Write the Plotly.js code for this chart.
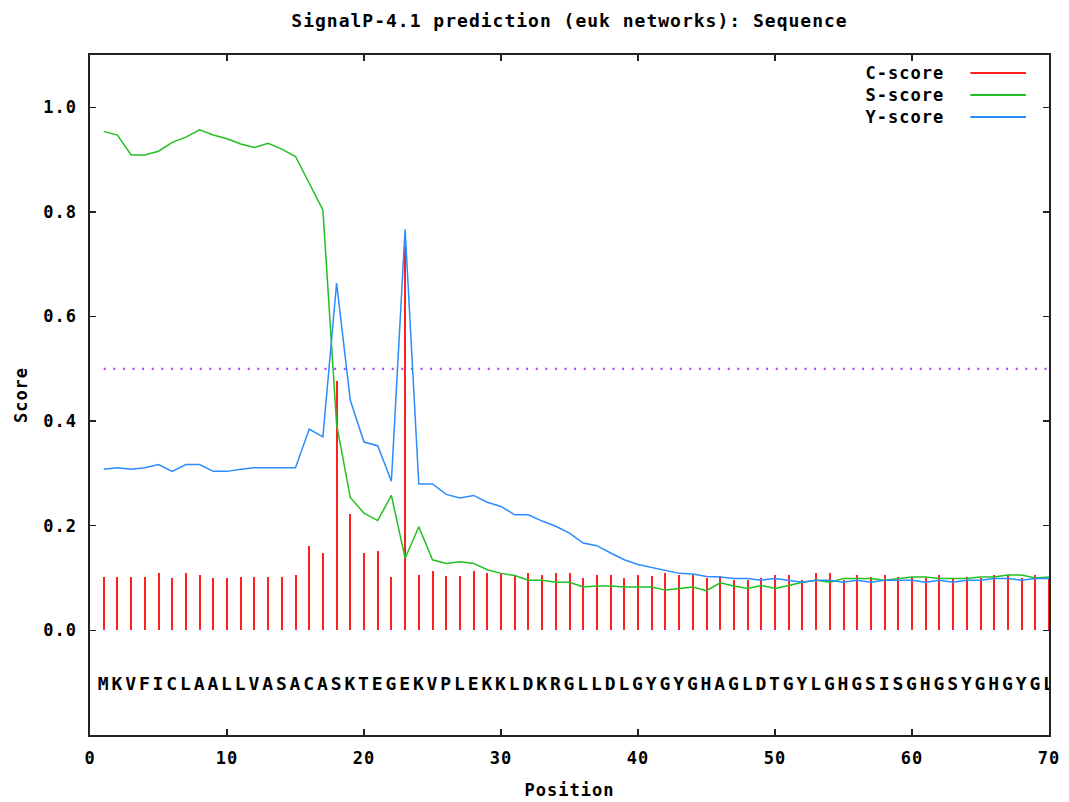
<!DOCTYPE html>
<html>
<head>
<meta charset="utf-8">
<script src="https://cdn.plot.ly/plotly-3.0.1.min.js"></script>
<style>
  html, body { margin: 0; padding: 0; background: #fff; }
  #chart { width: 1069px; height: 802px; }
  .main-svg text { letter-spacing: 1px; }
</style>
</head>
<body>
<div id="chart"></div>
<script>
// ---- data ----
const sequence = "MKVFICLAALLVASACASKTEGEKVPLEKKLDKRGLLDLGYGYGHAGLDTGYLGHGSISGHGSYGHGYGL".split("");
const positions = sequence.map((_, i) => i + 1);

const cScore = [
  0.103, 0.103, 0.103, 0.103, 0.109, 0.100, 0.109, 0.106, 0.100, 0.100,
  0.103, 0.103, 0.103, 0.103, 0.106, 0.161, 0.147, 0.476, 0.222, 0.147,
  0.151, 0.103, 0.735, 0.106, 0.113, 0.104, 0.104, 0.113, 0.110, 0.109,
  0.105, 0.110, 0.106, 0.110, 0.110, 0.100, 0.106, 0.106, 0.100, 0.106,
  0.104, 0.110, 0.105, 0.106, 0.100, 0.104, 0.097, 0.097, 0.100, 0.106,
  0.106, 0.097, 0.110, 0.110, 0.097, 0.106, 0.103, 0.106, 0.103, 0.103,
  0.100, 0.106, 0.100, 0.103, 0.100, 0.106, 0.106, 0.100, 0.106, 0.100
];

const sScore = [
  0.954, 0.947, 0.909, 0.909, 0.916, 0.933, 0.943, 0.957, 0.947, 0.940,
  0.930, 0.923, 0.931, 0.920, 0.906, 0.855, 0.804, 0.394, 0.254, 0.224,
  0.210, 0.258, 0.138, 0.198, 0.135, 0.128, 0.131, 0.128, 0.116, 0.109,
  0.105, 0.096, 0.096, 0.092, 0.092, 0.083, 0.085, 0.085, 0.083, 0.083,
  0.083, 0.077, 0.080, 0.083, 0.076, 0.091, 0.085, 0.080, 0.086, 0.080,
  0.086, 0.092, 0.096, 0.092, 0.099, 0.099, 0.099, 0.096, 0.099, 0.102,
  0.102, 0.099, 0.099, 0.099, 0.102, 0.102, 0.106, 0.106, 0.100, 0.102
];

const yScore = [
  0.308, 0.311, 0.308, 0.311, 0.317, 0.304, 0.317, 0.317, 0.304, 0.304,
  0.308, 0.311, 0.311, 0.311, 0.311, 0.385, 0.370, 0.664, 0.440, 0.360,
  0.353, 0.285, 0.767, 0.280, 0.280, 0.260, 0.253, 0.258, 0.245, 0.237,
  0.221, 0.221, 0.209, 0.199, 0.186, 0.167, 0.162, 0.148, 0.135, 0.126,
  0.120, 0.115, 0.109, 0.108, 0.103, 0.102, 0.099, 0.099, 0.096, 0.099,
  0.096, 0.092, 0.096, 0.096, 0.092, 0.096, 0.092, 0.096, 0.096, 0.096,
  0.092, 0.096, 0.092, 0.096, 0.096, 0.099, 0.099, 0.096, 0.099, 0.099
];

const threshold = 0.5;
const sequenceRowY = -0.105;
const seriesNames = ["C-score", "S-score", "Y-score"];
const seriesColors = ["#ff2020", "#22c022", "#2a8cff"];
const thresholdColor = "#c040ff";
const xTicks = [0, 10, 20, 30, 40, 50, 60, 70];
const yTicks = [0.0, 0.2, 0.4, 0.6, 0.8, 1.0];

// ---- chart ----
const FONT = "DejaVu Sans Mono, Liberation Mono, monospace";
const txtFont = (size) => ({ family: FONT, size: size, color: "#000", weight: "bold" });

const traces = [
  {
    type: "bar", x: positions, y: cScore, width: 0.146,
    marker: { color: seriesColors[0], line: { width: 0 } },
    name: seriesNames[0], showlegend: false, hoverinfo: "x+y"
  },
  {
    type: "scatter", mode: "lines", x: [positions[0], positions[positions.length - 1]],
    y: [threshold, threshold],
    line: { color: thresholdColor, width: 2.2, dash: "2px,7.6px" },
    showlegend: false, hoverinfo: "skip"
  },
  {
    type: "scatter", mode: "lines", x: positions, y: sScore,
    line: { color: seriesColors[1], width: 1.5 },
    name: seriesNames[1], showlegend: false
  },
  {
    type: "scatter", mode: "lines", x: positions, y: yScore,
    line: { color: seriesColors[2], width: 1.5 },
    name: seriesNames[2], showlegend: false
  },
  {
    type: "scatter", mode: "text", x: positions,
    y: positions.map(() => sequenceRowY),
    text: sequence, textposition: "middle center",
    textfont: txtFont(18), showlegend: false, hoverinfo: "skip"
  }
];

// custom gnuplot-style legend: text right-aligned, line sample to its right
const legendTextX = 0.889, legendLineX0 = 0.918, legendLineX1 = 0.976;
const legendRowsY = [0.9735, 0.941, 0.909];
const annotations = seriesNames.map((n, i) => ({
  xref: "paper", yref: "paper", x: legendTextX, y: legendRowsY[i],
  xanchor: "right", yanchor: "middle", text: n, showarrow: false,
  font: txtFont(17)
}));
const shapes = seriesNames.map((n, i) => ({
  type: "line", xref: "paper", yref: "paper",
  x0: legendLineX0, x1: legendLineX1, y0: legendRowsY[i], y1: legendRowsY[i],
  line: { color: seriesColors[i], width: 2 }
}));

const axisCommon = {
  showgrid: false, zeroline: false, showline: true, mirror: "ticks",
  linecolor: "#222", linewidth: 1.6, ticks: "inside", ticklen: 6,
  tickwidth: 1.4, tickcolor: "#222", tickfont: txtFont(17), fixedrange: true
};

const layout = {
  width: 1069, height: 802,
  margin: { l: 90, r: 20, t: 55, b: 67, pad: 0 },
  paper_bgcolor: "#fff", plot_bgcolor: "#fff",
  showlegend: false,
  title: {
    text: "SignalP-4.1 prediction (euk networks): Sequence",
    font: txtFont(18), xref: "paper", x: 0.5, xanchor: "center",
    yref: "container", y: 1 - 21 / 802, yanchor: "middle"
  },
  xaxis: Object.assign({}, axisCommon, {
    range: [0, 70], tickvals: xTicks, ticktext: xTicks.map(String),
    ticklabelstandoff: 7,
    title: { text: "Position", font: txtFont(17), standoff: 17 }
  }),
  yaxis: Object.assign({}, axisCommon, {
    range: [-0.2, 1.1], tickvals: yTicks, ticktext: yTicks.map(v => v.toFixed(1)),
    ticklabelstandoff: 8,
    title: { text: "Score", font: txtFont(17), standoff: 14 }
  }),
  bargap: 0,
  annotations: annotations,
  shapes: shapes
};

Plotly.newPlot("chart", traces, layout, { displayModeBar: false, staticPlot: true });
</script>
</body>
</html>
